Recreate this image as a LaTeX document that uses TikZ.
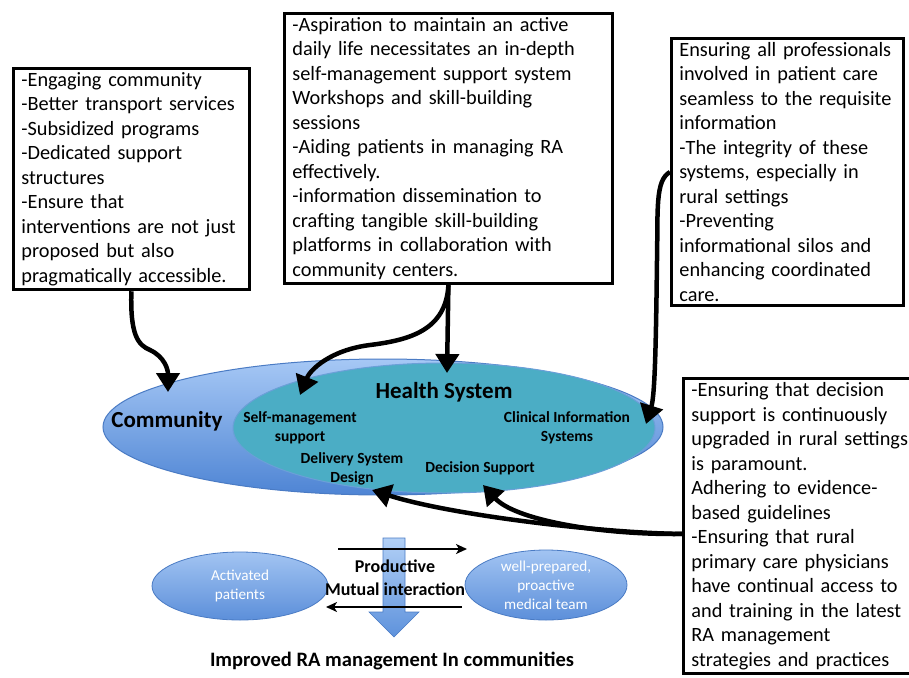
\documentclass[tikz,border=0pt]{standalone}
\usepackage{fontspec}
\setmainfont{Carlito}
\usetikzlibrary{arrows.meta,shapes.geometric}

\definecolor{commtop}{HTML}{A6C8F5}
\definecolor{commbot}{HTML}{4E84D4}
\definecolor{commline}{HTML}{4A7BC4}
\definecolor{hsfill}{HTML}{4BADC5}
\definecolor{hsline}{HTML}{6B9FD8}
\definecolor{smalltop}{HTML}{A2C4F2}
\definecolor{smallbot}{HTML}{5C8FDA}
\definecolor{blocktop}{HTML}{B2D0F6}
\definecolor{blockbot}{HTML}{5E92DC}

\tikzset{
  notebox/.style={draw=black, line width=2.8pt, fill=white, align=left,
    anchor=north west, inner xsep=8pt, inner ysep=4pt,
    font=\fontsize{20.3}{24.5}\selectfont},
  bigarrow/.style={line width=4.5pt, -{Triangle[length=19pt,width=23pt]}},
  thinarrow/.style={line width=1.8pt, -{Stealth[length=11pt,width=10pt,inset=3pt]}},
  partlabel/.style={font=\fontsize{15.5}{19}\selectfont\bfseries, align=center},
  biglabel/.style={font=\fontsize{23}{26}\selectfont\bfseries},
  smallell/.style={ellipse, draw=commline, line width=0.8pt,
    top color=smalltop, bottom color=smallbot, text=white, align=center,
    font=\fontsize{15.2}{19}\selectfont, inner sep=0pt},
}

\begin{document}
\begin{tikzpicture}[x=1pt,y=-1pt]
\useasboundingbox (0,0) rectangle (909,677);
\clip (0,0) rectangle (909,677);

% model ellipses
\node[ellipse, draw=commline, line width=1pt, top color=commtop, bottom color=commbot,
      minimum width=560pt, minimum height=136pt] (comm) at (383,427) {};
\node[ellipse, draw=hsline, line width=1pt, fill=hsfill,
      minimum width=422pt, minimum height=130pt] (hs) at (444,428) {};

\node[biglabel] (commlbl) at (167,421) {Community};
\node[biglabel] (hslbl) at (444,392) {Health System};
\node[partlabel] (selfm) at (300,428) {Self-management\\support};
\node[partlabel] (cis) at (567,428) {Clinical Information\\Systems};
\node[partlabel] (dsd) at (352,469) {Delivery System\\Design};
\node[partlabel] (dsup) at (480,468) {Decision Support};

% outcome row
\node[smallell, minimum width=176pt, minimum height=68pt] (pat) at (240,586) {Activated\\patients};
\node[smallell, minimum width=162pt, minimum height=70pt] (team) at (546,585) {well-prepared,\\proactive\\medical team};

\path[draw=commline, line width=0.6pt, top color=blocktop, bottom color=blockbot]
  (383,538) -- (405,538) -- (405,612) -- (419,612) -- (394,637) -- (369,612) -- (383,612) -- cycle;

\coordinate (r1) at (338,549);
\coordinate (r2) at (467,549);
\coordinate (l1) at (462,607);
\coordinate (l2) at (326,607);
\draw[thinarrow] (r1) -- (r2);
\draw[thinarrow] (l1) -- (l2);

\node[font=\fontsize{18}{23}\selectfont\bfseries, align=center] (inter) at (395,578) {Productive\\Mutual interaction};
\node[font=\fontsize{20.5}{22}\selectfont\bfseries] (outcome) at (392,661) {Improved RA management In communities};

% note boxes
\node[notebox, text width=220pt] (b1) at (12,67) {-Engaging community\\
-Better transport services\\
-Subsidized programs\\
-Dedicated support\\
structures\\
-Ensure that\\
interventions are not just\\
proposed but also\\
pragmatically accessible.};

\node[notebox, text width=312pt] (b2) at (283,12) {-Aspiration to maintain an active\\
daily life necessitates an in-depth\\
self-management support system\\
Workshops and skill-building\\
sessions\\
-Aiding patients in managing RA\\
effectively.\\
-information dissemination to\\
crafting tangible skill-building\\
platforms in collaboration with\\
community centers.};

\node[notebox, text width=216pt] (b3) at (670,37) {Ensuring all professionals\\
involved in patient care\\
seamless to the requisite\\
information\\
-The integrity of these\\
systems, especially in\\
rural settings\\
-Preventing\\
informational silos and\\
enhancing coordinated\\
care.};

\node[notebox, text width=220pt] (b4) at (682,377) {-Ensuring that decision\\
support is continuously\\
upgraded in rural settings\\
is paramount.\\
Adhering to evidence-\\
based guidelines\\
-Ensuring that rural\\
primary care physicians\\
have continual access to\\
and training in the latest\\
RA management\\
strategies and practices};

% connectors from the notes to the model
\coordinate (commtip) at (168,392);
\coordinate (hstip) at (447,373);
\coordinate (selftip) at (300,395);
\coordinate (cistip) at (646,424);
\coordinate (dsdtip) at (372,490);
\coordinate (dsuptip) at (483,485);

\draw[bigarrow] (b1.south) .. controls (130,335) and (138,345) .. (150,350)
  .. controls (165,357) and (168,370) .. (commtip);
\draw[bigarrow] (b2.south) -- (hstip);
\draw[bigarrow] (b2.south) .. controls (446,330) and (410,340) .. (370,345)
  .. controls (330,350) and (310,370) .. (selftip);
\draw[bigarrow] (b3.west) .. controls (655,180) and (658,210) .. (657,260)
  .. controls (656,340) and (655,395) .. (cistip);
\draw[bigarrow] ([yshift=-8pt]b4.west) .. controls (600,533) and (450,515) .. (dsdtip);
\draw[bigarrow] ([yshift=-8pt]b4.west) .. controls (600,535) and (515,520) .. (dsuptip);
\end{tikzpicture}
\end{document}
